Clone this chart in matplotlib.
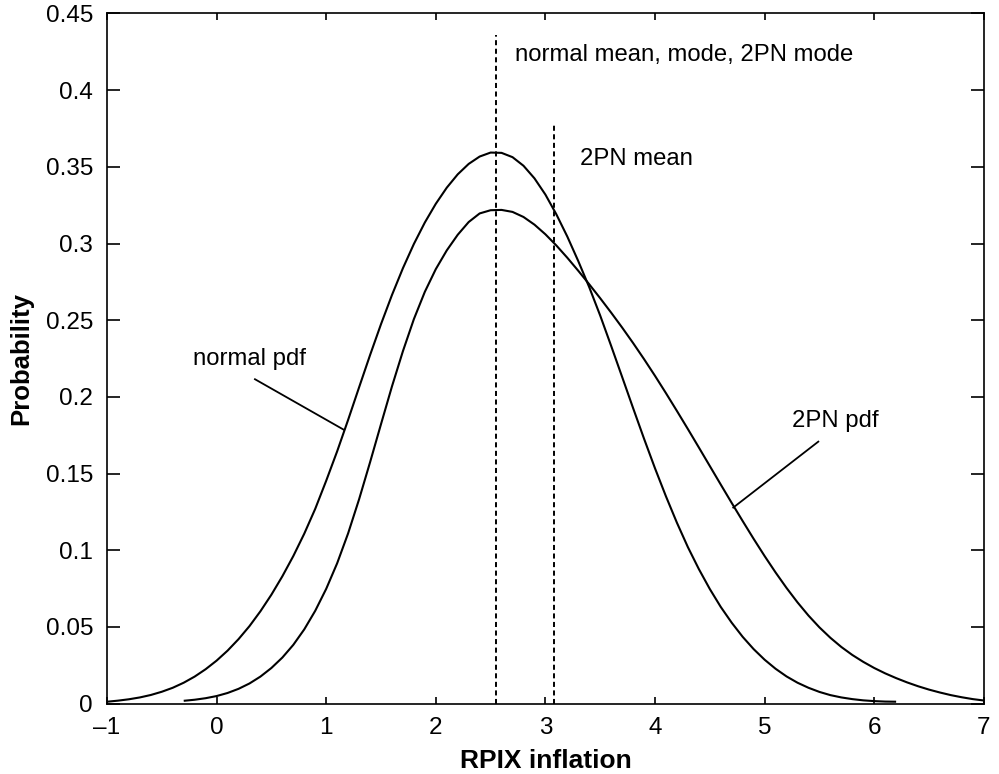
import matplotlib
matplotlib.use("Agg")
import matplotlib.pyplot as plt

# ---- data ----
x_normal = [-1.0, -0.9, -0.8, -0.7, -0.6, -0.5, -0.4, -0.3, -0.2, -0.1,
            0.0, 0.1, 0.2, 0.3, 0.4, 0.5, 0.6, 0.7, 0.8, 0.9,
            1.0, 1.1, 1.2, 1.3, 1.4, 1.5, 1.6, 1.7, 1.8, 1.9,
            2.0, 2.1, 2.2, 2.3, 2.4, 2.5, 2.6, 2.7, 2.8, 2.9,
            3.0, 3.1, 3.2, 3.3, 3.4, 3.5, 3.6, 3.7, 3.8, 3.9,
            4.0, 4.1, 4.2, 4.3, 4.4, 4.5, 4.6, 4.7, 4.8, 4.9,
            5.0, 5.1, 5.2, 5.3, 5.4, 5.5, 5.6, 5.7, 5.8, 5.9,
            6.0, 6.1, 6.2]
y_normal = [0.0012, 0.0019, 0.0028, 0.0040, 0.0056, 0.0077, 0.0103, 0.0136, 0.0176, 0.0224,
            0.0280, 0.0345, 0.0420, 0.0505, 0.0602, 0.0710, 0.0830, 0.0962, 0.1108, 0.1270,
            0.1453, 0.1645, 0.1850, 0.2062, 0.2272, 0.2474, 0.2664, 0.2839, 0.2997, 0.3137,
            0.3259, 0.3364, 0.3451, 0.3519, 0.3567, 0.3593, 0.3591, 0.3563, 0.3507, 0.3425,
            0.3319, 0.3190, 0.3045, 0.2885, 0.2715, 0.2530, 0.2332, 0.2130, 0.1927, 0.1727,
            0.1534, 0.1351, 0.1179, 0.1020, 0.0877, 0.0747, 0.0630, 0.0527, 0.0435, 0.0355,
            0.0286, 0.0227, 0.0177, 0.0136, 0.0103, 0.0076, 0.0055, 0.0040, 0.0029, 0.0021,
            0.0016, 0.0013, 0.0012]

x_2pn = [-0.3, -0.2, -0.1,
         0.0, 0.1, 0.2, 0.3, 0.4, 0.5, 0.6, 0.7, 0.8, 0.9,
         1.0, 1.1, 1.2, 1.3, 1.4, 1.5, 1.6, 1.7, 1.8, 1.9,
         2.0, 2.1, 2.2, 2.3, 2.4, 2.5, 2.6, 2.7, 2.8, 2.9,
         3.0, 3.1, 3.2, 3.3, 3.4, 3.5, 3.6, 3.7, 3.8, 3.9,
         4.0, 4.1, 4.2, 4.3, 4.4, 4.5, 4.6, 4.7, 4.8, 4.9,
         5.0, 5.1, 5.2, 5.3, 5.4, 5.5, 5.6, 5.7, 5.8, 5.9,
         6.0, 6.1, 6.2, 6.3, 6.4, 6.5, 6.6, 6.7, 6.8, 6.9,
         7.0]
y_2pn = [0.0018, 0.0025, 0.0035,
         0.0049, 0.0069, 0.0096, 0.0131, 0.0176, 0.0232, 0.0300, 0.0383, 0.0484, 0.0605,
         0.0748, 0.0915, 0.1110, 0.1332, 0.1573, 0.1822, 0.2068, 0.2298, 0.2507, 0.2685,
         0.2833, 0.2955, 0.3057, 0.3140, 0.3196, 0.3217, 0.3219, 0.3206, 0.3173, 0.3123,
         0.3060, 0.2987, 0.2907, 0.2822, 0.2734, 0.2643, 0.2549, 0.2452, 0.2351, 0.2246,
         0.2137, 0.2024, 0.1908, 0.1790, 0.1670, 0.1549, 0.1428, 0.1308, 0.1190, 0.1074,
         0.0962, 0.0855, 0.0754, 0.0660, 0.0574, 0.0497, 0.0429, 0.0369, 0.0317, 0.0272,
         0.0232, 0.0197, 0.0166, 0.0138, 0.0113, 0.0091, 0.0072, 0.0055, 0.0041, 0.0029,
         0.0020]

# vertical markers: (x position, top of dashed line)
marker_x = [2.547, 3.078]
marker_top = [0.436, 0.378]

xticks = [-1, 0, 1, 2, 3, 4, 5, 6, 7]
yticks = [0, 0.05, 0.1, 0.15, 0.2, 0.25, 0.3, 0.35, 0.4, 0.45]
ytick_labels = ["0", "0.05", "0.1", "0.15", "0.2", "0.25", "0.3", "0.35", "0.4", "0.45"]

# annotation texts and anchors (data coords)
notes = [
    ("normal mean, mode, 2PN mode", 2.723, 0.423),
    ("2PN mean", 3.316, 0.355),
    ("normal pdf", -0.213, 0.2245),
    ("2PN pdf", 5.247, 0.184),
]
pointers = [
    ((0.350, 0.2115), (1.162, 0.1785)),
    ((5.490, 0.1708), (4.714, 0.1278)),
]

# ---- drawing ----
plt.rcParams['font.family'] = ['Liberation Sans', 'DejaVu Sans']

fig = plt.figure(figsize=(9.99, 7.74), dpi=100)
ax = fig.add_axes([0.1071, 0.0910, 0.8777, 0.8916])

ax.plot(x_normal, y_normal, color='black', lw=1.5, solid_capstyle='butt')
ax.plot(x_2pn, y_2pn, color='black', lw=1.5, solid_capstyle='butt')

for mx, mt in zip(marker_x, marker_top):
    ax.plot([mx, mx], [0, mt], color='black', lw=1.4, linestyle=(0, (2.6, 1.8)))

for txt, tx, ty in notes:
    ax.text(tx, ty, txt, ha='left', va='center', fontsize=17.2)

for (x0, y0), (x1, y1) in pointers:
    ax.plot([x0, x1], [y0, y1], color='black', lw=1.3)

ax.set_xlim(-1, 7)
ax.set_ylim(0, 0.45)
ax.set_xticks(xticks)
ax.set_xticklabels([str(t) if t >= 0 else "\u2013" + str(-t) for t in xticks])
ax.set_yticks(yticks)
ax.set_yticklabels(ytick_labels)

for s in ax.spines.values():
    s.set_linewidth(1.2)

ax.tick_params(direction='in', top=True, right=True, labelsize=17.5, width=1.2)
ax.tick_params(axis='y', length=9.5, pad=10)
ax.tick_params(axis='x', length=5, pad=10)

ax.set_xlabel('RPIX inflation', fontsize=19, fontweight='bold', labelpad=7)
ax.set_ylabel('Probability', fontsize=18.5, fontweight='bold', labelpad=9)

fig.savefig('out.png', dpi=100)
